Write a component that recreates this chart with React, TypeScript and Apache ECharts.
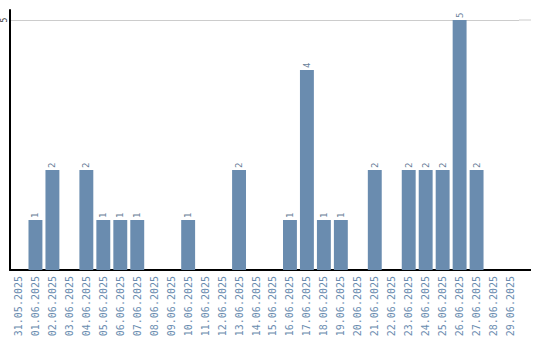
import React, { useEffect, useRef } from "react";
import * as echarts from "echarts";

const categories = [
  "31.05.2025", "01.06.2025", "02.06.2025", "03.06.2025", "04.06.2025",
  "05.06.2025", "06.06.2025", "07.06.2025", "08.06.2025", "09.06.2025",
  "10.06.2025", "11.06.2025", "12.06.2025", "13.06.2025", "14.06.2025",
  "15.06.2025", "16.06.2025", "17.06.2025", "18.06.2025", "19.06.2025",
  "20.06.2025", "21.06.2025", "22.06.2025", "23.06.2025", "24.06.2025",
  "25.06.2025", "26.06.2025", "27.06.2025", "28.06.2025", "29.06.2025",
];

const counts = [
  0, 1, 2, 0, 2,
  1, 1, 1, 0, 0,
  1, 0, 0, 2, 0,
  0, 1, 4, 1, 1,
  0, 2, 0, 2, 2,
  2, 5, 2, 0, 0,
];

const yTickInterval = 5;
const yMax = 5.2;
const yLabels = ["5"];

export default function App() {
  const ref = useRef<HTMLDivElement>(null);
  useEffect(() => {
    if (!ref.current) return;
    const chart = echarts.init(ref.current, undefined, { renderer: "svg" });
    const gridRight = 21;
    const plotEndX = 540 - gridRight;
    const lineEndX = 531;
    chart.setOption({
      animation: false,
      grid: { left: 9, right: gridRight, top: 10, bottom: 70, containLabel: false },
      xAxis: {
        type: "category",
        data: categories,
        axisLine: { show: true, lineStyle: { color: "#000", width: 2 } },
        axisTick: { show: false },
        axisLabel: {
          rotate: 90,
          interval: 0,
          color: "#6a8caf",
          fontFamily: "DejaVu Sans Mono",
          fontSize: 10,
          margin: 6,
        },
      },
      yAxis: {
        type: "value",
        min: 0,
        max: yMax,
        interval: yTickInterval,
        axisLine: { show: true, lineStyle: { color: "#000", width: 2 } },
        axisTick: { show: false },
        axisLabel: {
          rotate: 90,
          formatter: (v: number) => (yLabels.includes(String(v)) ? String(v) : ""),
          color: "#333",
          fontFamily: "DejaVu Sans Mono",
          fontSize: 8,
          margin: 2,
          hideOverlap: false,
        },
        splitLine: {
          show: true,
          showMinLine: false,
          showMaxLine: false,
          lineStyle: { color: "#cccccc", width: 1 },
        },
      },
      series: [
        {
          type: "bar",
          data: counts.map((v) => (v === 0 ? null : v)),
          barCategoryGap: "18%",
          itemStyle: { color: "#6a8caf" },
          label: {
            show: true,
            position: "top",
            rotate: 90,
            align: "left",
            verticalAlign: "middle",
            distance: 2,
            color: "#6a7f99",
            fontFamily: "DejaVu Sans Mono",
            fontSize: 9,
          },
        },
      ],
    });
    const y0 = chart.convertToPixel({ yAxisIndex: 0 }, 0) as number;
    const y5 = chart.convertToPixel({ yAxisIndex: 0 }, Number(yLabels[0])) as number;
    chart.setOption({
      graphic: [
        {
          type: "line",
          shape: { x1: plotEndX, y1: y5, x2: lineEndX, y2: y5 },
          style: { stroke: "#cccccc", lineWidth: 1 },
          z: 0,
        },
        {
          type: "line",
          shape: { x1: plotEndX - 1, y1: y0, x2: lineEndX, y2: y0 },
          style: { stroke: "#000", lineWidth: 2 },
          z: 10,
        },
      ],
    });
    return () => chart.dispose();
  }, []);
  return (
    <div
      ref={ref}
      style={{ position: "absolute", left: 0, top: 0, width: 540, height: 340 }}
    />
  );
}
